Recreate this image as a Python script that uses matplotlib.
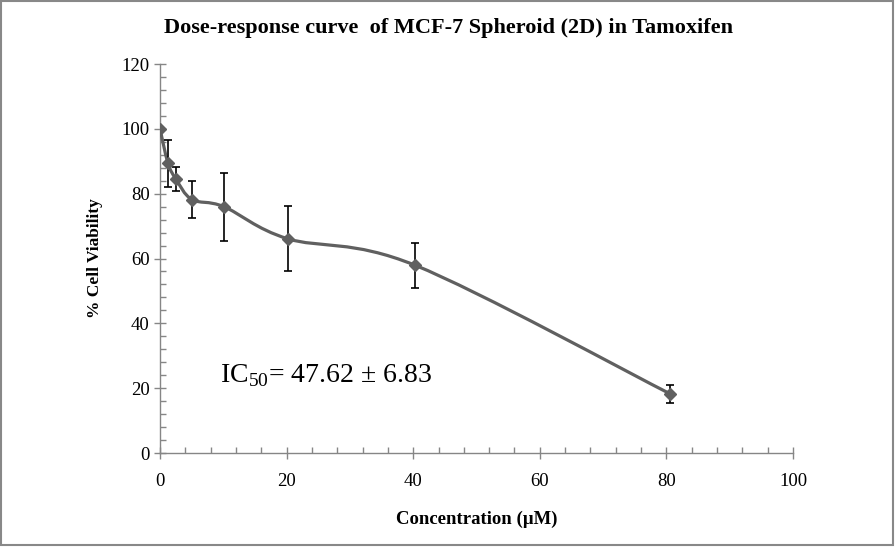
import numpy as np
import matplotlib
matplotlib.use('Agg')
import matplotlib.pyplot as plt
from matplotlib.path import Path
from matplotlib.patches import PathPatch, Rectangle
from matplotlib.ticker import MultipleLocator

plt.rcParams['font.family'] = ['Liberation Serif', 'DejaVu Serif']
plt.rcParams['mathtext.fontset'] = 'custom'
plt.rcParams['mathtext.rm'] = 'Liberation Serif'

# data
conc = [0, 1.26, 2.52, 5.04, 10.08, 20.16, 40.32, 80.64]
viability = [100, 89.4, 84.5, 78.2, 76.0, 66.1, 57.9, 18.2]
err = [0, 7.3, 3.7, 5.7, 10.5, 10.1, 7.0, 2.8]
title = 'Dose-response curve  of MCF-7 Spheroid (2D) in Tamoxifen'
ic50_text = 'IC$_{\\mathrm{50}}$= 47.62 ± 6.83'

line_col = '#606060'
axis_col = '#868686'


def smooth_path(xs, ys):
    # excel-like smoothed line: catmull-rom turned into bezier segments
    pts = np.column_stack([xs, ys]).astype(float)
    n = len(pts)
    verts = [pts[0]]
    codes = [Path.MOVETO]
    for i in range(n - 1):
        p0 = pts[i - 1] if i > 0 else pts[i]
        p1 = pts[i]
        p2 = pts[i + 1]
        p3 = pts[i + 2] if i + 2 < n else pts[i + 1]
        c1 = p1 + (p2 - p0) / 6.0
        c2 = p2 - (p3 - p1) / 6.0
        verts += [c1, c2, p2]
        codes += [Path.CURVE4] * 3
    return Path(verts, codes)


fig = plt.figure(figsize=(8.96, 5.47), dpi=100)
ax = fig.add_axes([160 / 896, 1 - 453 / 547, 633 / 896, 389 / 547])

ax.add_patch(PathPatch(smooth_path(conc, viability), fill=False,
                       edgecolor=line_col, lw=2.3, zorder=3))
ax.errorbar(conc, viability, yerr=err, fmt='none', ecolor='black',
            elinewidth=1.2, capsize=3, capthick=1.2, zorder=4)
ax.plot(conc, viability, linestyle='none', marker='D', markersize=6,
        color=line_col, zorder=5)

ax.set_xlim(0, 100)
ax.set_ylim(0, 120)
ax.xaxis.set_major_locator(MultipleLocator(20))
ax.yaxis.set_major_locator(MultipleLocator(20))
ax.xaxis.set_minor_locator(MultipleLocator(4))
ax.yaxis.set_minor_locator(MultipleLocator(4))
for s in ['top', 'right']:
    ax.spines[s].set_visible(False)
for s in ['left', 'bottom']:
    ax.spines[s].set_color(axis_col)
    ax.spines[s].set_linewidth(1.0)
ax.tick_params(which='major', direction='inout', length=9, width=1,
               color=axis_col, labelsize=13.5, labelcolor='black', pad=3)
ax.tick_params(axis='x', which='major', pad=10)
ax.tick_params(which='minor', direction='in', length=4, width=1, color=axis_col)

ax.set_xlabel('Concentration (µM)', fontsize=13.5, fontweight='bold', labelpad=15)
ax.set_ylabel('% Cell Viability', fontsize=12.5, fontweight='bold', labelpad=13)

ax.text(9.4, 24, ic50_text, fontsize=20, ha='left', va='center')

fig.text(0.5, 1 - 28 / 547, title, fontsize=16, fontweight='bold',
         ha='center', va='center')

fig.patches.append(Rectangle((1 / 896, 2 / 547), 892 / 896, 544 / 547,
                             transform=fig.transFigure, fill=False,
                             edgecolor='#888888', lw=1.5))

fig.savefig('out.png', dpi=100)
